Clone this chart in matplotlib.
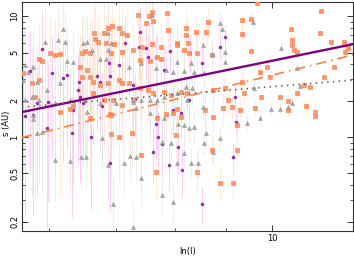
import numpy as np
import matplotlib
matplotlib.use("Agg")
import matplotlib.pyplot as plt
from matplotlib.ticker import FixedLocator, NullFormatter, FuncFormatter

# orange series (boxed x)
orange_x = [9.67, 9.34, 9.54, 11.20, 9.34, 10.44, 11.17, 10.46, 10.48, 10.51, 10.60, 9.54, 9.89,
            11.45, 11.80, 11.91, 11.83, 10.76, 11.27, 9.73, 9.96, 10.19, 10.37, 10.60, 10.91, 11.53,
            9.62, 10.81, 11.04, 11.04, 10.37, 9.38, 9.75,
            7.25, 7.41, 7.66, 8.43, 8.71, 9.23, 9.23, 8.87, 9.15,
            6.92, 7.05, 7.84, 8.02, 8.04, 8.11, 7.68, 6.59, 6.90, 6.29,
            7.36, 7.60, 7.55, 7.86, 7.62, 7.50, 6.93, 6.87, 7.04, 6.80, 6.65, 7.09, 7.18, 7.88,
            6.67, 6.71, 6.83, 6.97, 6.52, 6.59, 6.47, 6.01, 6.08, 6.15, 5.87, 5.91, 6.92, 7.09,
            7.27, 7.43, 7.60, 7.75, 8.04, 8.25, 8.17, 7.68, 7.75, 7.57, 7.39, 6.44, 6.55, 6.59,
            6.47, 6.64, 6.75, 6.87, 7.04, 7.09, 7.21, 7.39, 7.53, 7.62, 7.80, 7.93, 8.11, 8.23,
            5.65, 5.77, 5.87, 5.81, 6.64, 6.80, 6.95, 7.09, 7.27, 6.34, 6.15, 6.92, 7.98,
            8.21, 8.41, 8.59, 8.21, 8.63, 8.04, 8.27, 8.43, 8.71, 8.57, 8.73, 8.93, 9.13, 9.30,
            8.73, 8.98, 9.04, 9.34]
orange_s = [12.8, 9.26, 9.43, 11.0, 7.12, 7.81, 7.25, 6.33, 5.76, 5.24, 5.04, 5.14, 3.79,
            6.10, 6.10, 5.44, 5.04, 2.69, 3.13, 3.45, 3.13, 2.14, 1.98, 2.31, 2.59, 3.79,
            1.74, 1.80, 1.61, 1.49, 1.67, 2.31, 2.14,
            1.08, 0.71, 0.51, 0.51, 0.78, 0.78, 1.26, 0.42, 0.42,
            1.06, 1.00, 1.55, 1.04, 1.70, 1.46, 1.44, 1.44, 1.55, 1.70,
            10.2, 10.8, 10.0, 10.6, 9.09, 8.76, 8.28, 7.96, 7.96, 7.25, 7.25, 7.25, 6.98, 7.67,
            6.46, 6.10, 5.98, 5.87, 5.14, 4.95, 4.95, 4.95, 4.77, 4.86, 4.42, 4.25, 4.95, 5.04,
            5.24, 5.54, 5.87, 5.54, 5.98, 5.98, 5.24, 4.59, 4.42, 4.25, 4.33, 3.79, 3.58, 3.13,
            3.13, 2.85, 2.69, 2.80, 2.96, 2.80, 2.80, 2.54, 2.45, 2.31, 2.36, 2.22, 2.36, 2.31,
            3.38, 2.80, 2.96, 2.14, 2.31, 2.02, 2.02, 1.84, 2.02, 1.80, 1.61, 1.52, 1.58,
            7.96, 7.39, 7.39, 6.98, 8.92, 5.76, 4.95, 4.95, 4.77, 1.67, 1.46, 1.74, 1.77, 1.67,
            2.45, 2.54, 2.02, 2.85]
orange_err = [0.10, 0.15, 0.12, 0.08, 0.12, 0.10, 0.08, 0.10, 0.09, 0.08, 0.10, 0.15, 0.12,
              0.08, 0.07, 0.08, 0.07, 0.10, 0.08, 0.12, 0.10, 0.10, 0.12, 0.09, 0.08, 0.07,
              0.15, 0.10, 0.08, 0.08, 0.10, 0.18, 0.12,
              0.50, 0.45, 0.40, 0.30, 0.25, 0.20, 0.20, 0.30, 0.25,
              0.60, 0.55, 0.40, 0.35, 0.40, 0.35, 0.45, 0.70, 0.60, 0.75,
              0.40, 0.35, 0.40, 0.30, 0.45, 0.40, 0.55, 0.60, 0.50, 0.60, 0.65, 0.55, 0.50, 0.35,
              0.65, 0.60, 0.55, 0.50, 0.70, 0.65, 0.70, 0.80, 0.75, 0.75, 0.80, 0.80, 0.60, 0.55,
              0.50, 0.45, 0.40, 0.40, 0.35, 0.30, 0.35, 0.45, 0.40, 0.45, 0.50, 0.70, 0.65, 0.70,
              0.70, 0.65, 0.60, 0.60, 0.55, 0.55, 0.50, 0.45, 0.45, 0.40, 0.40, 0.35, 0.35, 0.30,
              0.85, 0.80, 0.80, 0.85, 0.65, 0.60, 0.60, 0.55, 0.50, 0.75, 0.80, 0.60, 0.35,
              0.30, 0.25, 0.25, 0.30, 0.25, 0.35, 0.30, 0.30, 0.25, 0.30, 0.25, 0.25, 0.20, 0.20,
              0.25, 0.20, 0.22, 0.18]

# gray series (triangles)
gray_x = [6.19, 5.94, 6.13, 6.22, 6.48, 6.55, 6.92, 6.87, 6.87, 6.62, 6.25, 6.34, 6.83, 6.75,
          5.68, 5.72, 5.78, 7.21, 7.41, 7.66, 7.84, 8.17, 8.04, 8.31, 5.65, 5.84, 5.97, 6.15,
          5.68, 5.77, 5.87, 6.08, 6.29, 6.52, 6.75, 7.00, 7.27, 7.57, 7.80, 8.04, 8.23,
          5.78, 6.55, 7.57, 7.80, 7.60, 8.87, 8.91, 8.53, 8.71, 8.98, 8.98, 7.97, 8.37, 8.55,
          8.21, 8.33, 7.41, 7.68, 7.32, 8.53, 8.17, 8.37,
          9.58, 10.21, 10.60, 10.67, 9.60, 9.98, 10.19, 10.37, 10.48, 9.73, 9.45,
          6.08, 6.29, 6.46, 6.53, 6.78, 6.87, 6.95, 7.12, 7.23, 7.32, 7.41, 7.27, 7.78, 7.98,
          7.77, 7.93, 8.04, 8.17, 8.31, 5.84, 5.90, 8.27, 8.07, 5.78, 8.55, 8.73, 8.87, 8.59, 8.45]
gray_s = [7.81, 6.10, 6.33, 6.10, 5.98, 6.10, 5.98, 7.25, 5.24, 5.24, 4.25, 4.17, 4.42, 4.42,
          3.94, 3.45, 3.79, 3.79, 4.09, 3.72, 3.58, 3.51, 4.17, 4.09, 2.96, 2.85, 2.45, 2.80,
          2.02, 2.14, 2.02, 1.91, 2.02, 2.02, 1.91, 1.91, 1.95, 2.02, 2.14, 2.31, 2.02,
          1.52, 1.61, 1.58, 1.44, 10.2, 8.76, 7.81, 5.76, 4.86, 5.04, 4.17, 3.45, 3.45, 3.38,
          2.59, 2.54, 2.02, 2.02, 1.74, 1.77, 1.26, 1.21,
          8.92, 5.44, 3.72, 2.64, 2.54, 1.70, 1.70, 1.77, 1.91, 1.44, 1.31,
          0.65, 0.63, 0.68, 0.68, 0.98, 0.59, 0.28, 0.61, 0.70, 0.68, 0.46, 0.18, 0.33, 0.29,
          0.91, 0.89, 0.61, 0.74, 0.61, 1.08, 1.10, 1.19, 1.28, 1.41, 0.89, 0.75, 0.98, 1.08, 0.61]
gray_err = [0.60, 0.70, 0.65, 0.60, 0.55, 0.55, 0.50, 0.50, 0.55, 0.60, 0.70, 0.65, 0.55, 0.55,
            0.80, 0.80, 0.75, 0.45, 0.40, 0.35, 0.35, 0.30, 0.30, 0.30, 0.85, 0.80, 0.75, 0.70,
            0.85, 0.85, 0.80, 0.75, 0.70, 0.65, 0.60, 0.55, 0.50, 0.45, 0.40, 0.35, 0.30,
            0.85, 0.65, 0.45, 0.40, 0.35, 0.20, 0.20, 0.25, 0.22, 0.20, 0.20, 0.35, 0.30, 0.28,
            0.30, 0.28, 0.45, 0.40, 0.45, 0.25, 0.30, 0.28,
            0.12, 0.10, 0.08, 0.08, 0.12, 0.10, 0.10, 0.08, 0.08, 0.12, 0.12,
            0.55, 0.50, 0.45, 0.45, 0.45, 0.50, 0.55, 0.45, 0.40, 0.40, 0.45, 0.50, 0.35, 0.30,
            0.35, 0.30, 0.30, 0.25, 0.25, 0.70, 0.70, 0.25, 0.30, 0.75, 0.20, 0.20, 0.20, 0.22, 0.25]

# purple series (circles)
purple_x = [5.91, 5.74, 6.04, 6.25, 6.43, 6.41, 6.19, 6.44, 5.98, 7.39, 7.37, 6.88, 7.05, 6.70,
            6.90, 6.75, 7.27, 7.52, 7.66, 7.80, 8.29, 6.34, 6.48, 5.78, 7.98, 7.50, 7.91, 8.51,
            8.98, 8.87, 7.14, 7.30, 7.68, 9.19, 8.27, 5.97, 6.32, 6.61, 6.78, 7.66, 7.71, 7.62,
            7.89, 8.06, 8.13, 8.11, 6.90, 5.68, 5.84, 7.78, 8.51, 9.21, 9.15]
purple_s = [5.34, 3.51, 3.38, 3.26, 2.85, 2.45, 3.07, 2.14, 1.95, 7.39, 5.54, 4.09, 3.94, 3.19,
            3.19, 2.85, 2.69, 4.59, 4.59, 3.58, 4.95, 1.67, 1.91, 1.52, 1.67, 5.44, 5.14, 4.09,
            6.72, 5.54, 5.98, 2.06, 1.46, 2.14, 2.02, 1.19, 1.08, 1.00, 1.80, 1.28, 1.00, 0.75,
            0.59, 0.83, 0.53, 1.58, 0.61, 1.49, 1.91, 0.88, 0.28, 1.33, 0.68]
purple_err = [0.75, 0.85, 0.80, 0.75, 0.70, 0.75, 0.80, 0.80, 0.85, 0.45, 0.45, 0.60, 0.55, 0.65,
              0.60, 0.65, 0.50, 0.40, 0.40, 0.40, 0.30, 0.75, 0.70, 0.85, 0.40, 0.45, 0.35, 0.25,
              0.20, 0.22, 0.55, 0.50, 0.45, 0.20, 0.30, 0.85, 0.80, 0.75, 0.65, 0.45, 0.45, 0.45,
              0.40, 0.40, 0.40, 0.35, 0.60, 0.85, 0.80, 0.45, 0.30, 0.20, 0.25]

# power-law fits s = A * x**B
fit_purple = (0.0843, 1.705)
fit_orange = (0.0274, 2.074)
fit_gray = (0.548, 0.678)

x_lim = (5.64, 12.04)
y_lim = (0.167, 13.1)
y_labels = [0.2, 0.5, 1, 2, 5, 10]
y_minor = [0.3, 0.4, 0.6, 0.7, 0.8, 0.9, 3, 4, 6, 7, 8, 9]

fig = plt.figure(figsize=(3.54, 2.57), dpi=100)
ax = fig.add_axes([22 / 354, 26 / 257, 331 / 354, 229 / 257])
ax.set_xscale("log")
ax.set_yscale("log")


def errbars(x, s, e, color):
    s = np.array(s)
    e = np.array(e)
    ax.errorbar(x, s, yerr=[s * e, s * e * 1.3], fmt="none", ecolor=color,
                elinewidth=0.6, capsize=0, zorder=1, alpha=0.7)


errbars(purple_x, purple_s, purple_err, "#f5b0f5")
errbars(orange_x, orange_s, orange_err, "#ffdcc4")
errbars(gray_x, gray_s, gray_err, "#e3e3e3")

ax.plot(purple_x, purple_s, "o", ms=2.2, mfc="#9a2fa8", mec="#8a1a9a", mew=0.3, zorder=3)
ax.plot(orange_x, orange_s, "s", ms=2.8, mfc="#ffc6a8", mec="#ff8050", mew=0.5, zorder=3)
ax.plot(orange_x, orange_s, "x", ms=2.0, mec="#ff6a30", mew=0.5, zorder=3)
ax.plot(gray_x, gray_s, "^", ms=2.9, mfc="#a8a8a8", mec="#888888", mew=0.3, zorder=3)

xx = np.geomspace(x_lim[0], x_lim[1], 50)
ax.plot(xx, fit_purple[0] * xx ** fit_purple[1], "-", color="#800080", lw=1.7, zorder=4)
ax.plot(xx, fit_orange[0] * xx ** fit_orange[1], color="#ff7f40", lw=1.2,
        dashes=(6, 3, 1, 3), zorder=4)
ax.plot(xx, fit_gray[0] * xx ** fit_gray[1], color="#666666", lw=1.3,
        dashes=(0.8, 2.4), zorder=4)

ax.set_xlim(*x_lim)
ax.set_ylim(*y_lim)

ax.xaxis.set_major_locator(FixedLocator([10]))
ax.xaxis.set_minor_locator(FixedLocator([6, 7, 8, 9, 20]))
ax.xaxis.set_major_formatter(FuncFormatter(lambda v, p: "%g" % v))
ax.xaxis.set_minor_formatter(NullFormatter())

ax.yaxis.set_major_locator(FixedLocator(y_labels))
ax.yaxis.set_minor_locator(FixedLocator(y_minor))
ax.yaxis.set_major_formatter(FuncFormatter(lambda v, p: "%g" % v))
ax.yaxis.set_minor_formatter(NullFormatter())

ax.tick_params(which="both", direction="in", top=True, right=True, labelsize=6,
               color="#333333", pad=2)
ax.tick_params(which="major", length=4, width=0.7)
ax.tick_params(which="minor", length=2.2, width=0.6)
for lab in ax.get_yticklabels():
    lab.set_rotation(90)
    lab.set_va("center")
for sp in ax.spines.values():
    sp.set_color("#333333")
    sp.set_linewidth(0.8)

ax.set_xlabel("ln(I)", fontsize=6)
ax.set_ylabel("s (AU)", fontsize=6)
ax.xaxis.set_label_coords(0.5, -0.068)
ax.yaxis.set_label_coords(-0.034, 0.47)

fig.savefig("out.png", dpi=100)
